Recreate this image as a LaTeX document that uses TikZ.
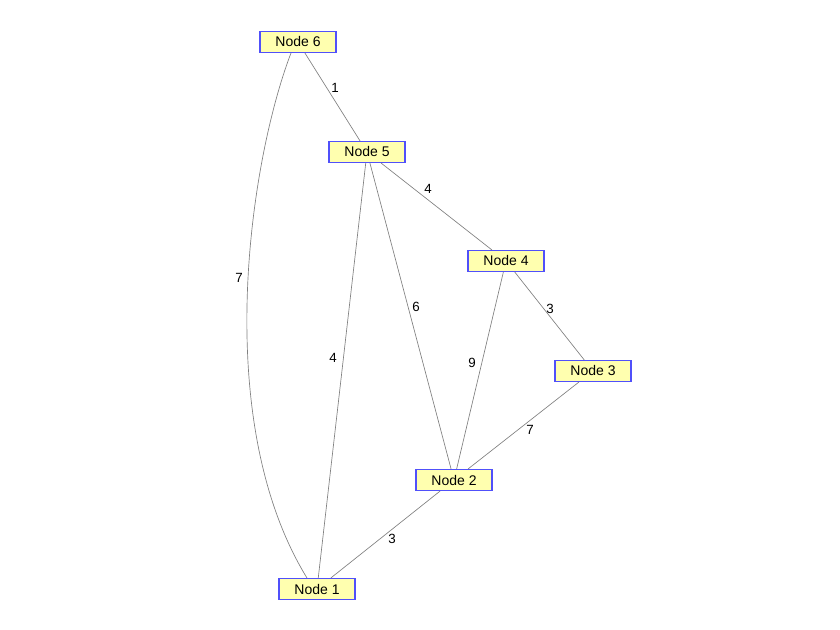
\documentclass[tikz,border=0pt]{standalone}
\usepackage{fontspec}
\usetikzlibrary{calc}
\setmainfont{Liberation Sans}
\definecolor{nb}{RGB}{80,80,250}
\definecolor{nf}{RGB}{255,255,175}
\definecolor{eg}{RGB}{128,128,128}
\begin{document}
\begin{tikzpicture}[x=0.75pt,y=-0.75pt,
  nd/.style={draw=nb,fill=nf,line width=1.1pt,minimum width=57pt,minimum height=15.5pt,inner sep=1pt,font=\fontsize{10.5}{12}\selectfont},
  ed/.style={draw=eg,line width=0.5pt},
  lb/.style={font=\fontsize{10}{12}\selectfont,inner sep=0pt}]
\useasboundingbox (0,0) rectangle (840,630);
\draw[ed] (291,53) coordinate (c6) .. controls (250,160) and (210,420) .. (307,578) coordinate (c1);
\node[nd] (n6) at (298,42) {Node 6};
\node[nd] (n5) at (367,152) {Node 5};
\node[nd] (n4) at (506,261) {Node 4};
\node[nd] (n3) at (593,371) {Node 3};
\node[nd] (n2) at (454,480) {Node 2};
\node[nd] (n1) at (317,589) {Node 1};
\draw[ed] (n6) -- (n5);
\draw[ed] (n5) -- (n4);
\draw[ed] (n4) -- (n3);
\draw[ed] (n3) -- (n2);
\draw[ed] (n4) -- (n2);
\draw[ed] (n5) -- (n2);
\draw[ed] (n5) -- (n1);
\draw[ed] (n2) -- (n1);
\node[lb] at (335,88) {1};
\node[lb] at (428,189) {4};
\node[lb] at (550,309) {3};
\node[lb] at (530,430) {7};
\node[lb] at (472,363) {9};
\node[lb] at (416,307) {6};
\node[lb] at (333,358) {4};
\node[lb] at (392,539) {3};
\node[lb] at (239,278) {7};
\end{tikzpicture}
\end{document}
